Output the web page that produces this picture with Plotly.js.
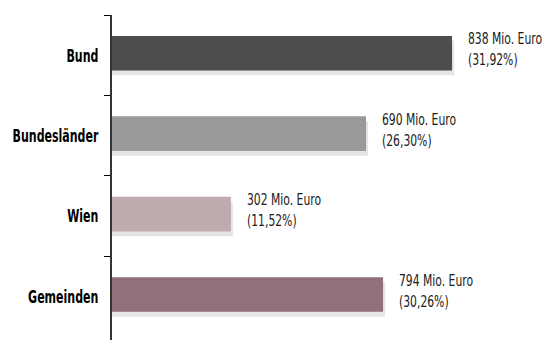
<!DOCTYPE html>
<html>
<head>
<meta charset="utf-8">
<script src="https://cdn.plot.ly/plotly-3.0.1.min.js"></script>
<style>html,body{margin:0;padding:0;background:#fff;}#chart{width:547px;height:340px;}</style>
</head>
<body>
<div id="chart"></div>
<script>
// Data
var categories = ["Bund", "Bundesländer", "Wien", "Gemeinden"];
// bar lengths as drawn (estimated, in Mio. Euro on the Bund bar scale)
var barValues = [838, 626, 293, 668];
// amounts and shares printed next to the bars
var amountLabels = ["838", "690", "302", "794"];
var shareLabels = ["31,92", "26,30", "11,52", "30,26"];
var barColors = ["#4d4d4d", "#9a9a9a", "#bfaaae", "#927079"];

var narrow = "DejaVu Sans Condensed, DejaVu Sans, sans-serif";

var shadow = {
  type: "bar", orientation: "h",
  y: categories, x: barValues.map(function(v){ return v + 5; }),
  width: 0.43, offset: -0.18,
  marker: {color: "rgba(0,0,0,0.10)"},
  hoverinfo: "skip", showlegend: false
};
var bars = {
  type: "bar", orientation: "h",
  y: categories, x: barValues,
  width: 0.43, offset: -0.24,
  marker: {color: barColors},
  hoverinfo: "skip", showlegend: false
};

var annotations = categories.map(function(c, i){
  return {
    x: barValues[i], y: c, xref: "x", yref: "y",
    xanchor: "left", yanchor: "middle", xshift: 14, yshift: 6,
    showarrow: false, align: "left",
    text: amountLabels[i] + " Mio. Euro<br>(" + shareLabels[i] + "%)",
    font: {family: narrow, size: 16, color: "#1a1a1a"}
  };
});

var layout = {
  width: 547, height: 340,
  margin: {l: 112, r: 0, t: 15, b: 0},
  paper_bgcolor: "#fff", plot_bgcolor: "#fff",
  barmode: "overlay",
  showlegend: false,
  xaxis: {range: [0, 1072], visible: false, fixedrange: true},
  yaxis: {
    type: "category",
    range: [3.54, -0.5],
    tickson: "boundaries",
    ticks: "outside", ticklen: 6, tickwidth: 1, tickcolor: "#000",
    showline: true, linecolor: "#333", linewidth: 2,
    showgrid: false, zeroline: false,
    ticklabelstandoff: 8,
    tickfont: {family: narrow, size: 18, color: "#000", weight: "bold"}
  },
  annotations: annotations
};

function condense(el, f) {
  var w = el.getComputedTextLength();
  if (w > 0) {
    el.setAttribute("textLength", (w * f).toFixed(1));
    el.setAttribute("lengthAdjust", "spacingAndGlyphs");
  }
}

Plotly.newPlot("chart", [shadow, bars], layout, {displayModeBar: false, staticPlot: true}).then(function(gd){
  gd.querySelectorAll(".ytick text").forEach(function(t){ condense(t, 0.68); });
  gd.querySelectorAll(".annotation-text").forEach(function(t){
    var lines = t.querySelectorAll("tspan.line");
    if (lines.length) lines.forEach(function(s){ condense(s, 0.75); });
    else condense(t, 0.75);
  });
});
</script>
</body>
</html>
